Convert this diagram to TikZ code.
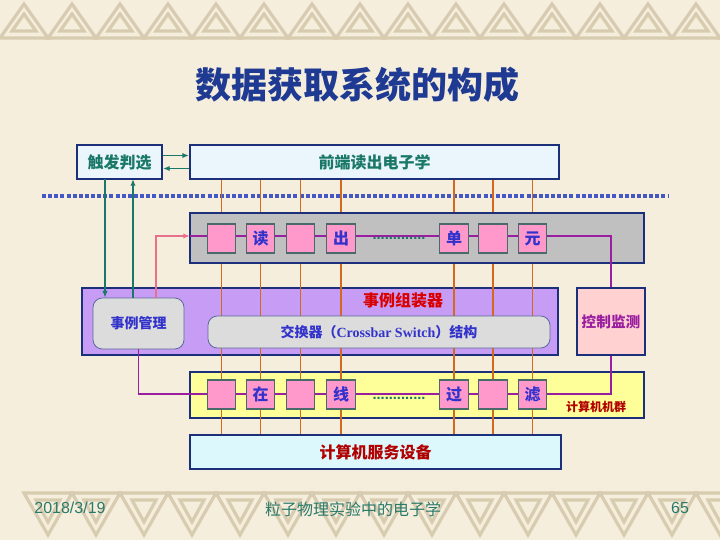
\documentclass[tikz,border=0pt]{standalone}
\usepackage{fontspec}
\newfontfamily\cjk{Noto Sans CJK SC}
\newfontfamily\serifen{Liberation Serif}
\newfontfamily\sansen{Liberation Sans}
\usetikzlibrary{arrows.meta,calc}

\definecolor{paper}{HTML}{F6EEDC}
\definecolor{tan}{HTML}{D8CCB0}
\definecolor{navy}{HTML}{1C2F7A}
\definecolor{dotblue}{HTML}{4358C4}
\definecolor{icefill}{HTML}{EAF6FC}
\definecolor{cyanfill}{HTML}{DDF8FC}
\definecolor{greyfill}{HTML}{C0C0C0}
\definecolor{lilac}{HTML}{C69CF5}
\definecolor{lemon}{HTML}{FFFF99}
\definecolor{blush}{HTML}{FFD1D1}
\definecolor{softgrey}{HTML}{DCDCDC}
\definecolor{softline}{HTML}{5A6A9A}
\definecolor{cellpink}{HTML}{FF99CC}
\definecolor{cellline}{HTML}{4A6A6A}
\definecolor{wireorange}{HTML}{D2691E}
\definecolor{buspurple}{HTML}{9A1FA0}
\definecolor{rosearrow}{HTML}{E8708A}
\definecolor{trigteal}{HTML}{1A7868}
\definecolor{titleblue}{HTML}{1F3A93}
\definecolor{labelblue}{HTML}{3333CC}
\definecolor{darkred}{HTML}{B00000}
\definecolor{footteal}{HTML}{2A7A6A}

\tikzset{
  frame/.style={draw=navy,line width=1.5pt,inner sep=0pt},
  soft/.style={draw=softline,fill=softgrey,rounded corners=7pt,line width=0.6pt,inner sep=0pt},
  cell/.style={draw=cellline,fill=cellpink,line width=0.8pt,minimum width=21.5pt,minimum height=21.75pt,
    inner sep=0pt,text=labelblue,font=\cjk\bfseries\fontsize{12}{12}\selectfont},
  wire/.style={draw=wireorange,line width=1.4pt},
  busline/.style={draw=buspurple,line width=1.5pt},
  trigline/.style={draw=trigteal,line width=1.3pt,-{Latex[length=5pt,width=4pt]}},
  band/.style={draw=tan,line width=2.4pt,line join=miter},
}

\begin{document}
\begin{tikzpicture}[x=0.75pt,y=-0.75pt]
\useasboundingbox (0,0) rectangle (720,540);
\clip (0,0) rectangle (720,540);
\fill[paper] (0,0) rectangle (720,540);
\foreach \x in {0,48,...,720} {
  \draw[band] (\x,38) -- (\x+24,4) -- (\x+48,38) -- cycle;
  \draw[band] (\x+12,31) -- (\x+24,14) -- (\x+36,31) -- cycle;
  \draw[band] (\x+24,493) -- (\x+48,535) -- (\x+72,493) -- cycle;
  \draw[band] (\x+36,500) -- (\x+48,522) -- (\x+60,500) -- cycle;
}

\draw[dotblue,line width=2.6pt,dash pattern=on 3pt off 1.6pt] (42,196) -- (668,196);

\node[frame,fill=icefill,minimum width=63.75pt,minimum height=25.5pt,text=trigteal,font=\cjk\bfseries\fontsize{12}{12}\selectfont] (trig) at (119.5,162) {触发判选};
\node[frame,fill=icefill,minimum width=276.75pt,minimum height=25.5pt,text=trigteal,font=\cjk\bfseries\fontsize{12}{12}\selectfont] (fee) at (374.5,162) {前端读出电子学};
\node[frame,fill=lilac,minimum width=357pt,minimum height=50.25pt] (evb) at (320,321.5) {};
\node[frame,fill=blush,minimum width=51pt,minimum height=50.25pt,text=buspurple,font=\cjk\bfseries\fontsize{11}{11}\selectfont] (mon) at (611,321.5) {控制监测};
\node[frame,fill=lemon,minimum width=340.5pt,minimum height=34.5pt] (farm) at (417,395) {};
\node[frame,fill=cyanfill,minimum width=278.25pt,minimum height=25.5pt,text=darkred,font=\cjk\bfseries\fontsize{12}{12}\selectfont] (srv) at (375.5,452) {计算机服务设备};

\foreach \x [count=\i] in {221.5,260.5,300.5,341,454,493,532.5}
  \coordinate (c\i) at (\x,238);
\foreach \i in {1,...,7}
  \draw[wire] (fee.south -| c\i) -- (srv.north -| c\i);

\node[frame,fill=greyfill,minimum width=340.5pt,minimum height=37.5pt] (rob) at (417,238) {};
\node[soft,minimum width=256.5pt,minimum height=24pt,text=labelblue,font=\cjk\bfseries\fontsize{10.5}{10.5}\selectfont] (xbar) at (379,332) {交换器（{\serifen Crossbar Switch}）结构};
\node[soft,minimum width=68.25pt,minimum height=38.25pt,text=labelblue,font=\cjk\bfseries\fontsize{10.5}{10.5}\selectfont] (evm) at (138.5,323.5) {事例管理};
\node[text=red!85!black,font=\cjk\bfseries\fontsize{12}{12}\selectfont] (evbname) at (403,300) {事例组装器};
\node[text=darkred,font=\cjk\bfseries\fontsize{9}{9}\selectfont] (farmname) at (596,407) {计算机机群};

\coordinate (busin) at (190,236);
\coordinate (busturn) at (611,236);
\coordinate (farmturn) at (611,394);
\coordinate (trigdown) at (105,179);
\coordinate (trigup) at (133,179);
\coordinate (rosefoot) at (156,298);
\draw[busline] (busin) -- (busturn) -- (mon.north);
\draw[busline,line width=1.2pt] (evm.south) |- (farmturn) -- (mon.south);
\draw[draw=rosearrow,line width=1.4pt,-{Latex[length=5pt,width=4pt]}] (rosefoot) |- (busin);
\draw[trigline] (trigdown) -- (trigdown |- evm.north);
\draw[trigline] (trigup |- evm.north) -- (trigup);
\draw[trigline] ($(trig.east)+(0,-6.5)$) -- ($(fee.west)+(0,-6.5)$);
\draw[trigline] ($(fee.west)+(0,6.5)$) -- ($(trig.east)+(0,6.5)$);

\foreach \x/\lbl [count=\i] in {221.5/,260.5/读,300.5/,341/出,454/单,493/,532.5/元}
  \node[cell] (r\i) at (\x,238.5) {\lbl};
\foreach \x/\lbl [count=\i] in {221.5/,260.5/在,300.5/,341/线,454/过,493/,532.5/滤}
  \node[cell] (f\i) at (\x,394.5) {\lbl};
\node[text=trigteal,font=\sansen\bfseries\fontsize{11}{11}\selectfont] (rdots) at (399,238) {.............};
\node[text=trigteal,font=\sansen\bfseries\fontsize{11}{11}\selectfont] (fdots) at (399,398) {.............};

\node[text=titleblue,font=\cjk\bfseries\fontsize{27}{27}\selectfont] (title) at (357,85) {数据获取系统的构成};
\node[text=footteal,font=\sansen\fontsize{12}{12}\selectfont] (date) at (70,508) {2018/3/19};
\node[text=footteal,font=\cjk\fontsize{12}{12}\selectfont] (course) at (353,509) {粒子物理实验中的电子学};
\node[text=footteal,font=\sansen\fontsize{12}{12}\selectfont] (page) at (680,508) {65};
\end{tikzpicture}
\end{document}
